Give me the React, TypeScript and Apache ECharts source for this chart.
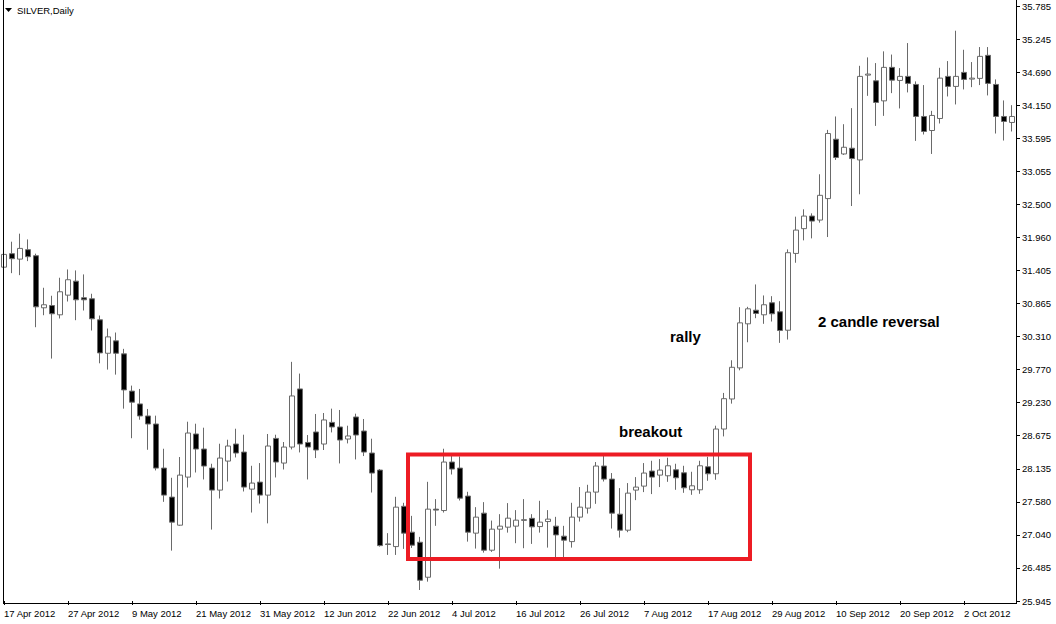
import React, { useEffect, useRef } from "react";
import * as echarts from "echarts";

// ---- data ----
const startDate = [2012, 3, 17]; // 17 Apr 2012, first daily bar
const barCount = 127;

const opens = [
  31.466, 31.689, 31.599, 31.755, 31.655, 30.794, 30.832, 30.678, 31.003, 31.235,
  30.960, 30.943, 30.595, 30.042, 30.247, 30.032, 29.416, 29.204, 29.005, 28.872,
  28.143, 27.663, 27.199, 27.994, 28.707, 28.458, 28.143, 27.779, 28.259, 28.541,
  28.408, 27.795, 27.911, 27.696, 28.634, 28.226, 28.491, 29.452, 28.567, 28.740,
  28.541, 28.899, 28.823, 28.624, 28.988, 28.756, 28.392, 28.110, 26.889, 26.845,
  27.511, 27.083, 26.917, 26.338, 27.464, 27.441, 28.243, 28.143, 27.680, 27.067,
  27.398, 26.785, 27.133, 27.166, 27.183, 27.278, 27.312, 27.176, 27.259, 27.183,
  27.017, 26.927, 27.332, 27.481, 27.746, 28.177, 27.961, 27.381, 27.116, 27.779,
  27.845, 28.094, 28.027, 28.016, 28.115, 28.065, 27.784, 27.784, 28.165, 28.049,
  28.789, 29.286, 29.800, 30.529, 30.754, 30.678, 30.877, 30.728, 30.423, 31.693,
  32.103, 32.311, 32.245, 32.600, 33.582, 33.338, 33.433, 33.239, 34.642, 34.548,
  34.216, 34.770, 34.554, 34.621, 34.488, 33.958, 33.726, 33.925, 34.621, 34.455,
  34.687, 34.576, 34.588, 34.969, 34.488, 33.958, 33.859,
];
const closes = [
  31.677, 31.606, 31.776, 31.639, 30.810, 30.844, 30.695, 31.059, 31.258, 30.926,
  30.926, 30.612, 30.048, 30.313, 30.042, 29.436, 29.233, 29.005, 28.872, 28.143,
  27.696, 27.249, 28.027, 28.723, 28.458, 28.177, 27.779, 28.309, 28.508, 28.392,
  27.829, 27.895, 27.696, 28.508, 28.243, 28.491, 29.336, 28.541, 28.491, 28.442,
  28.939, 28.823, 28.607, 28.674, 28.690, 28.408, 28.061, 26.861, 26.879, 27.497,
  27.067, 26.868, 26.288, 27.464, 27.448, 28.243, 28.127, 27.646, 27.083, 27.332,
  26.785, 27.133, 27.183, 27.315, 27.282, 27.290, 27.171, 27.249, 27.299, 27.038,
  26.951, 27.332, 27.497, 27.746, 28.177, 27.961, 27.398, 27.116, 27.729, 27.829,
  28.061, 27.994, 28.110, 28.181, 27.983, 27.817, 27.850, 28.181, 28.049, 28.789,
  29.291, 29.810, 30.545, 30.777, 30.700, 30.844, 30.695, 30.418, 31.705, 32.079,
  32.311, 32.228, 32.654, 33.676, 33.279, 33.449, 33.262, 34.621, 34.659, 34.190,
  34.770, 34.559, 34.621, 34.505, 33.958, 33.710, 33.975, 34.592, 34.455, 34.621,
  34.571, 34.592, 34.952, 34.505, 33.958, 33.875, 33.958,
];
const lows = [
  31.301, 31.367, 31.334, 31.566, 30.473, 30.671, 29.954, 30.617, 30.898, 30.589,
  30.749, 30.418, 29.876, 29.772, 29.689, 29.126, 28.637, 28.943, 28.446, 28.104,
  27.585, 26.778, 27.188, 27.822, 28.070, 27.955, 27.126, 27.640, 27.921, 28.319,
  27.756, 27.408, 27.557, 27.229, 27.988, 28.120, 28.452, 28.402, 27.955, 28.309,
  28.442, 28.733, 28.220, 28.551, 28.286, 28.342, 27.739, 26.845, 26.707, 26.707,
  26.807, 26.823, 26.127, 26.265, 27.188, 27.408, 28.037, 27.607, 26.927, 26.812,
  26.745, 26.757, 26.480, 27.076, 26.901, 26.818, 26.889, 27.076, 26.828, 26.657,
  26.657, 26.828, 27.259, 27.391, 27.552, 27.921, 27.143, 26.994, 27.083, 27.613,
  27.746, 27.713, 27.829, 27.916, 27.784, 27.734, 27.701, 27.718, 27.933, 27.950,
  28.667, 29.209, 29.760, 30.224, 30.622, 30.529, 30.567, 30.214, 30.269, 31.539,
  31.909, 31.942, 32.202, 31.964, 33.239, 33.322, 32.477, 32.671, 34.299, 33.802,
  33.968, 34.344, 34.091, 34.356, 33.554, 33.660, 33.338, 33.842, 34.289, 34.157,
  34.405, 34.443, 34.477, 34.306, 33.676, 33.560, 33.710,
];
const highs = [
  31.909, 31.887, 32.020, 31.925, 31.689, 31.125, 30.993, 31.291, 31.428, 31.412,
  31.346, 31.026, 30.666, 30.451, 30.385, 30.115, 29.507, 29.452, 29.121, 29.010,
  28.463, 27.983, 28.326, 28.910, 28.877, 28.811, 28.215, 28.546, 28.612, 28.794,
  28.695, 28.181, 28.226, 28.707, 28.695, 28.574, 29.900, 29.706, 28.690, 29.038,
  29.054, 29.126, 29.104, 28.844, 29.043, 28.955, 28.629, 28.127, 27.067, 27.668,
  27.569, 27.353, 27.005, 27.916, 27.630, 28.463, 28.364, 28.336, 27.751, 27.497,
  27.580, 27.275, 27.381, 27.564, 27.448, 27.630, 27.381, 27.602, 27.448, 27.337,
  27.188, 27.569, 27.829, 27.867, 28.243, 28.380, 28.061, 27.812, 27.895, 27.994,
  28.226, 28.264, 28.292, 28.314, 28.215, 28.181, 28.082, 28.264, 28.330, 28.844,
  29.386, 29.926, 30.804, 30.810, 31.180, 30.998, 30.986, 30.903, 31.760, 32.301,
  32.422, 32.356, 33.002, 33.736, 33.958, 33.830, 34.096, 34.796, 34.935, 34.841,
  35.035, 34.982, 34.758, 35.172, 34.538, 34.477, 34.051, 34.763, 34.874, 35.376,
  35.061, 34.858, 35.106, 35.106, 34.571, 34.223, 34.145,
];

const yTickLabels = [
  "25.945", "26.485", "27.040", "27.580", "28.135", "28.675", "29.230", "29.770",
  "30.310", "30.865", "31.405", "31.960", "32.500", "33.055", "33.595", "34.150",
  "34.690", "35.245", "35.785",
];
const priceMin = 25.945;
const priceMax = 35.785;
const labelEvery = 8;

const monthNames = ["Jan", "Feb", "Mar", "Apr", "May", "Jun", "Jul", "Aug", "Sep", "Oct", "Nov", "Dec"];

function tradingDays(start: number[], n: number): string[] {
  const out: string[] = [];
  const d = new Date(Date.UTC(start[0], start[1], start[2]));
  while (out.length < n) {
    const wd = d.getUTCDay();
    if (wd !== 0 && wd !== 6) {
      out.push(`${d.getUTCDate()} ${monthNames[d.getUTCMonth()]} ${d.getUTCFullYear()}`);
    }
    d.setUTCDate(d.getUTCDate() + 1);
  }
  return out;
}

const dates = tradingDays(startDate, barCount);

export default function App() {
  const ref = useRef<HTMLDivElement>(null);

  useEffect(() => {
    if (!ref.current) return;
    const chart = echarts.init(ref.current, undefined, { renderer: "svg" });
    const data = opens.map((o, i) => [o, closes[i], lows[i], highs[i]]);
    const labelFont = { fontFamily: "Liberation Sans", fontSize: 9.5, color: "#000" };

    chart.setOption({
      animation: false,
      backgroundColor: "#ffffff",
      grid: { left: 0, top: 6, width: 1016, height: 595, containLabel: false },
      xAxis: {
        type: "category",
        data: dates,
        boundaryGap: true,
        offset: 2,
        axisLine: { show: false },
        axisTick: {
          show: true,
          alignWithLabel: true,
          interval: (i: number) => i % labelEvery === 0,
          length: 4,
          lineStyle: { color: "#000", width: 1 },
        },
        axisLabel: {
          interval: (i: number) => i % labelEvery === 0,
          align: "left",
          margin: 5,
          ...labelFont,
        },
        splitLine: { show: false },
      },
      yAxis: [
        { type: "value", min: priceMin, max: priceMax, show: false },
        {
          type: "value",
          min: 0,
          max: yTickLabels.length - 1,
          interval: 1,
          position: "right",
          axisLine: { show: false },
          axisTick: { show: true, length: 4, lineStyle: { color: "#000", width: 1 } },
          axisLabel: {
            margin: 6,
            formatter: (v: number) => yTickLabels[Math.round(v)],
            verticalAlign: "middle",
            ...labelFont,
          },
          splitLine: { show: false },
        },
      ],
      series: [
        {
          type: "candlestick",
          yAxisIndex: 0,
          data,
          barWidth: 5,
          itemStyle: {
            color: "#ffffff",
            color0: "#000000",
            borderColor: "#6a6a6a",
            borderColor0: "#6a6a6a",
            borderWidth: 1,
          },
        },
      ],
      graphic: [
        { type: "line", z: 100, shape: { x1: 3.5, y1: 0, x2: 3.5, y2: 604 }, style: { stroke: "#000", lineWidth: 1 } },
        { type: "line", z: 100, shape: { x1: 3, y1: 603.5, x2: 1017, y2: 603.5 }, style: { stroke: "#000", lineWidth: 1 } },
        { type: "line", z: 100, shape: { x1: 1016.5, y1: 0, x2: 1016.5, y2: 604 }, style: { stroke: "#000", lineWidth: 1 } },
        { type: "polygon", z: 100, shape: { points: [[5, 8], [12, 8], [8.5, 12]] }, style: { fill: "#000" } },
        {
          type: "text", z: 100, x: 17, y: 10,
          style: { text: "SILVER,Daily", fill: "#000", font: "9.5px 'Liberation Sans'", verticalAlign: "middle" },
        },
        {
          type: "rect", z: 100,
          shape: { x: 408, y: 454.5, width: 342, height: 104.5 },
          style: { fill: "none", stroke: "#ed1c24", lineWidth: 4 },
        },
        {
          type: "text", z: 100, x: 670, y: 336,
          style: { text: "rally", fill: "#000", font: "bold 15px 'Liberation Sans'", verticalAlign: "middle" },
        },
        {
          type: "text", z: 100, x: 619, y: 431,
          style: { text: "breakout", fill: "#000", font: "bold 15px 'Liberation Sans'", verticalAlign: "middle" },
        },
        {
          type: "text", z: 100, x: 818, y: 321,
          style: { text: "2 candle reversal", fill: "#000", font: "bold 15px 'Liberation Sans'", verticalAlign: "middle" },
        },
      ],
    });

    return () => chart.dispose();
  }, []);

  return (
    <div
      ref={ref}
      style={{ position: "absolute", left: 0, top: 0, width: 1056, height: 624, background: "#fff" }}
    />
  );
}
